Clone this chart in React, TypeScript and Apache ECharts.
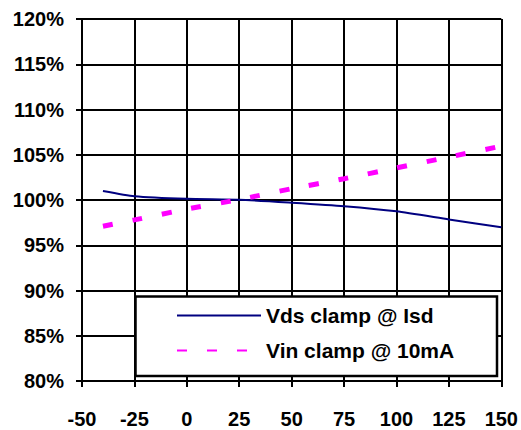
import React, { useEffect, useRef } from "react";
import * as echarts from "echarts";

const xTicks = { min: -50, max: 150, interval: 25 };
const yTicks = { min: 80, max: 120, interval: 5 };

const seriesNames = ["Vds clamp @ Isd", "Vin clamp @ 10mA"];
const temps = [-40, -25, 0, 25, 50, 75, 100, 125, 150];
const vdsClamp = [101.0, 100.42, 100.13, 100.03, 99.7, 99.32, 98.75, 97.85, 96.98];
const vinClamp = [97.1, 97.8, 99.0, 100.05, 101.25, 102.35, 103.55, 104.75, 105.95];

const FONT = "'Liberation Sans', Arial, sans-serif";

export default function App() {
  const ref = useRef<HTMLDivElement>(null);
  useEffect(() => {
    if (!ref.current) return;
    const chart = echarts.init(ref.current, undefined, { renderer: "svg" });
    const pair = (vals: number[]) => temps.map((t, i) => [t, vals[i]]);
    chart.setOption({
      animation: false,
      backgroundColor: "#fff",
      grid: { left: 82, right: 19, top: 19, bottom: 49 },
      xAxis: {
        type: "value",
        min: xTicks.min,
        max: xTicks.max,
        interval: xTicks.interval,
        axisLine: { show: true, onZero: false, lineStyle: { color: "#000", width: 2 } },
        axisTick: { show: true, length: 6, lineStyle: { color: "#000", width: 2 } },
        splitLine: { show: true, lineStyle: { color: "#000", width: 2 } },
        axisLabel: {
          margin: 28,
          color: "#000",
          fontFamily: FONT,
          fontWeight: "bold",
          fontSize: 20,
        },
      },
      yAxis: {
        type: "value",
        min: yTicks.min,
        max: yTicks.max,
        interval: yTicks.interval,
        axisLine: { show: true, onZero: false, lineStyle: { color: "#000", width: 2 } },
        axisTick: { show: true, length: 6, lineStyle: { color: "#000", width: 2 } },
        splitLine: { show: true, lineStyle: { color: "#000", width: 2 } },
        axisLabel: {
          margin: 18,
          color: "#000",
          fontFamily: FONT,
          fontWeight: "bold",
          fontSize: 20,
          formatter: "{value}%",
        },
      },
      legend: {
        orient: "vertical",
        left: 176,
        top: 305,
        padding: 0,
        itemWidth: 84,
        itemHeight: 14,
        itemGap: 14,
        z: 10,
        itemStyle: { opacity: 0 },
        textStyle: {
          color: "#000",
          fontFamily: FONT,
          fontWeight: "bold",
          fontSize: 21,
          lineHeight: 20,
        },
        data: seriesNames,
      },
      graphic: [
        {
          type: "rect",
          z: 5,
          shape: { x: 135.5, y: 296.5, width: 361.5, height: 79.5 },
          style: { fill: "#fff", stroke: "#000", lineWidth: 2.5 },
        },
      ],
      series: [
        {
          name: seriesNames[0],
          type: "line",
          data: pair(vdsClamp),
          symbol: "none",
          smooth: 0.2,
          lineStyle: { color: "#000080", width: 2 },
          itemStyle: { color: "#000080" },
        },
        {
          name: seriesNames[1],
          type: "line",
          data: pair(vinClamp),
          symbol: "none",
          smooth: 0.2,
          lineStyle: { color: "#ff00ff", width: 5, type: [10, 20], cap: "butt" },
          itemStyle: { color: "#ff00ff" },
        },
      ],
    });
    return () => chart.dispose();
  }, []);
  return (
    <div
      ref={ref}
      style={{ position: "fixed", left: 0, top: 0, width: 521, height: 430, background: "#fff" }}
    />
  );
}
